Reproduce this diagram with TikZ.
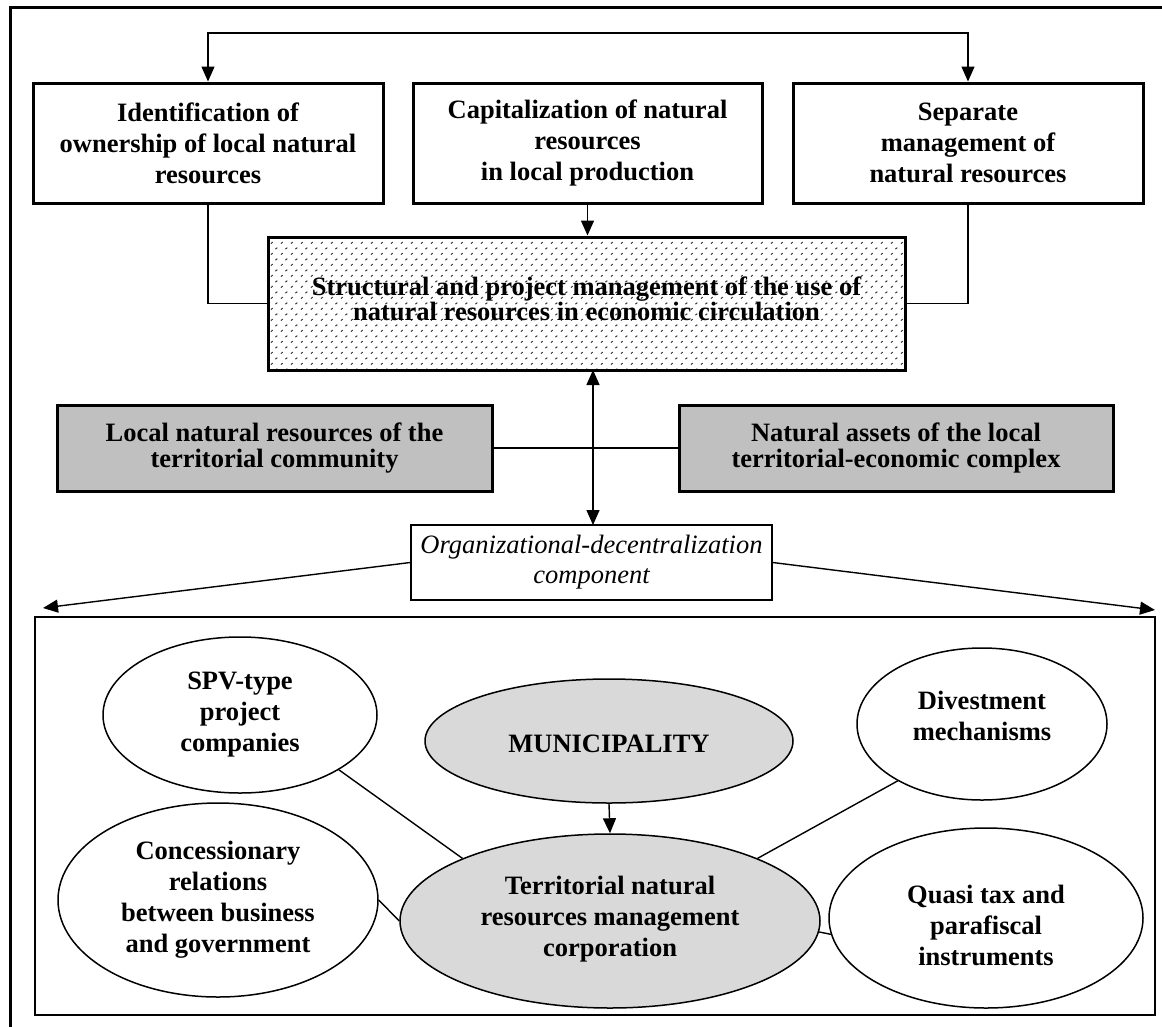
\documentclass[tikz,border=0pt]{standalone}
\usepackage{fontspec}
\setmainfont{Liberation Serif}
\usetikzlibrary{arrows.meta,shapes.geometric,patterns,calc}
\pgfdeclarepatternformonly{slashdots}{\pgfqpoint{0pt}{0pt}}{\pgfqpoint{10pt}{11.4pt}}{\pgfqpoint{10pt}{11.4pt}}{%
 \pgfsetlinewidth{1.1pt}%
 \pgfpathmoveto{\pgfqpoint{1pt}{1.5pt}}\pgfpathlineto{\pgfqpoint{3pt}{3pt}}%
 \pgfpathmoveto{\pgfqpoint{6pt}{7.2pt}}\pgfpathlineto{\pgfqpoint{8pt}{8.7pt}}%
 \pgfusepath{stroke}}
\definecolor{boxgray}{HTML}{C0C0C0}
\definecolor{ellgray}{HTML}{D9D9D9}
\begin{document}
\begin{tikzpicture}[x=1pt,y=-1pt,
  txt/.style={align=center,font=\fontsize{26.5}{31}\selectfont\bfseries,inner sep=0pt},
  topbox/.style={draw,line width=3pt,fill=white,minimum width=350pt,minimum height=120pt,inner sep=0pt,align=center,font=\fontsize{26.5}{31}\selectfont\bfseries},
  graybox/.style={draw,line width=3pt,fill=boxgray,minimum width=435pt,minimum height=86pt,inner sep=0pt,align=center,font=\fontsize{26.5}{26}\selectfont\bfseries},
  ell/.style={draw,ellipse,line width=1.5pt,inner sep=0pt},
  conn/.style={line width=1.4pt},
  arr/.style={line width=1.4pt,-{Triangle[length=15pt,width=13pt]}},
  darr/.style={line width=1.4pt,{Triangle[length=15pt,width=13pt]}-{Triangle[length=15pt,width=13pt]}}]
\useasboundingbox (0,0) rectangle (1162,1026);
\fill[white] (0,0) rectangle (1162,1026);
% outer frame (runs off the page to the right and bottom)
\draw[line width=3pt] (1175,7) -- (10,7) -- (10,1040);

% top boxes
\node[topbox] (b1) at (208,143) {Identification of\\ownership of local natural\\resources};
\node[topbox,minimum width=349pt] (b2) at (587.5,143) {Capitalization of natural\\resources\\in local production};
\node[topbox] (b3) at (968,143) {Separate\\management of\\natural resources};

% hatched box
\node[draw,line width=3pt,minimum width=637pt,minimum height=133pt,pattern=slashdots,pattern color=black!75] (hb) at (586.5,303.5) {};
\node[txt,font=\fontsize{26.5}{22}\selectfont\bfseries] (hbt) at (586.5,299) {Structural and project management of the use of\\natural resources in economic circulation};

% gray boxes
\node[graybox] (lg) at (274.5,448) {Local natural resources of the\\territorial community};
\node[graybox,minimum width=434pt] (rg) at (896,448) {Natural assets of the local\\territorial-economic complex};

% organizational box
\node[draw,line width=1.5pt,fill=white,minimum width=361pt,minimum height=75pt,inner sep=0pt,align=center,font=\fontsize{26.5}{30}\selectfont\itshape] (org) at (591.5,562.5) {Organizational-decentralization\\component};

% inner frame
\draw[line width=2pt] (35,617) rectangle (1155,1015);

% ellipses
\node[ell,minimum width=274pt,minimum height=156pt] (spv) at (240,715) {};
\node[txt] at (240,715) {SPV-type\\project\\companies};
\node[ell,minimum width=320pt,minimum height=194pt] (conc) at (218,900) {};
\node[txt] at (218,900) {Concessionary\\relations\\between business\\and government};
\node[ell,fill=ellgray,minimum width=368pt,minimum height=124pt] (mun) at (609,741) {};
\node[txt] at (609,744) {MUNICIPALITY};
\node[ell,fill=ellgray,minimum width=420pt,minimum height=174pt] (terr) at (610,921) {};
\node[txt] at (610,919) {Territorial natural\\resources management\\corporation};
\node[ell,minimum width=250pt,minimum height=152pt] (div) at (982,724) {};
\node[txt] at (982,716) {Divestment\\mechanisms};
\node[ell,minimum width=314pt,minimum height=180pt] (quasi) at (986,918) {};
\node[txt] at (986,925) {Quasi tax and\\parafiscal\\instruments};

% connectors: top
\coordinate (topmid) at (587,33);
\draw[darr] (b1.north) |- (topmid) -| (b3.north);
\draw[arr] (b2.south) -- (hb.north -| b2.south);
\draw[conn] (b1.south) |- (hb.west);
\draw[conn] (b3.south) |- (hb.east);

% gray boxes link
\draw[conn] (lg.east) -- (rg.west);

% double arrow
\coordinate (dtop) at (593,370);
\coordinate (dbot) at (593,525);
\draw[darr] (dtop) -- (dbot);

% org arrows
\coordinate (ltip) at (43,608);
\coordinate (rtip) at (1155,610);
\draw[arr] (org.west) -- (ltip);
\draw[arr] (org.east) -- (rtip);

% ellipse links
\draw[arr] (mun.south) -- (terr.north);
\draw[conn] (spv.-29) -- (terr.157);
\draw[conn] (conc.east) -- (terr.west);
\draw[conn] (div.-146) -- (terr.23);
\draw[conn] (terr.-3) -- (quasi.186);
\end{tikzpicture}
\end{document}
